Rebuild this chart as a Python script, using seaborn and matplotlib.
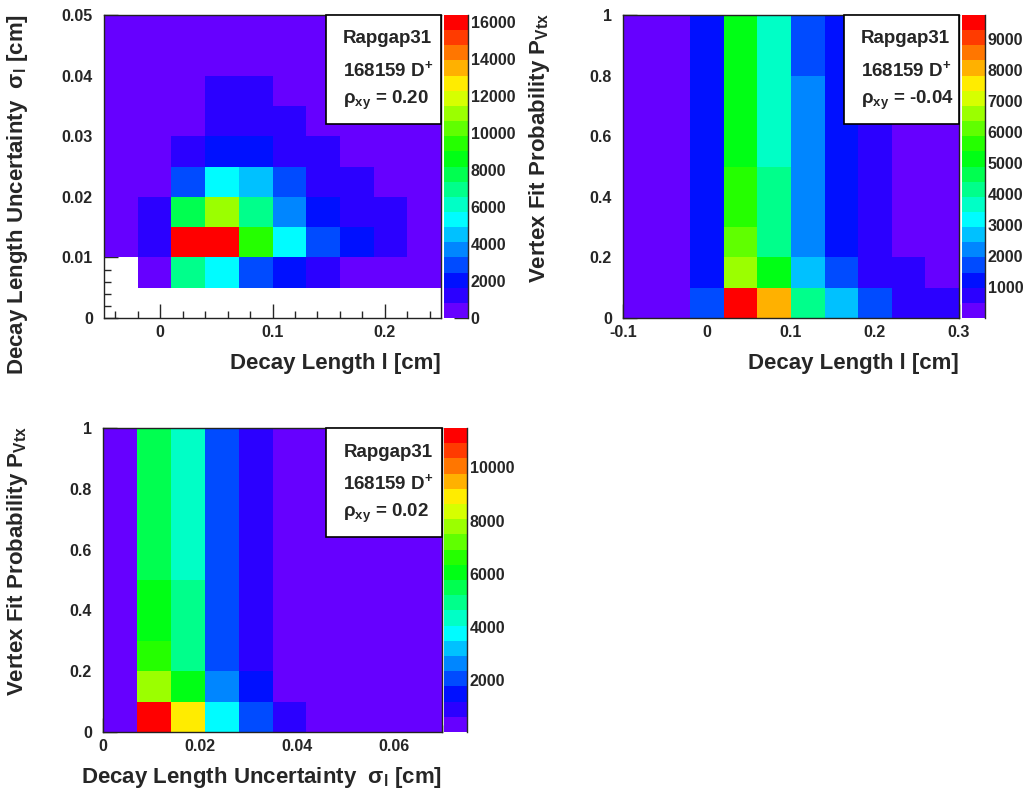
import numpy as np
import pandas as pd
import seaborn as sns
import matplotlib.pyplot as plt
from matplotlib.colors import ListedColormap
from matplotlib.patches import Rectangle
from matplotlib.ticker import MultipleLocator

# ROOT palette, 20 contour levels (violet -> red)
palette = ["#6600ff", "#2b00ff", "#0010ff", "#004bff", "#0086ff", "#00c1ff", "#00fcff",
           "#00ffc6", "#00ff8b", "#00ff50", "#00ff15", "#25ff00", "#60ff00", "#9bff00",
           "#d6ff00", "#ffec00", "#ffb100", "#ff7600", "#ff3b00", "#ff0000"]

# --- panel 1: decay length l vs uncertainty sigma_l (rows = lowest y bin first)
l_edges = [-0.05, -0.02, 0.01, 0.04, 0.07, 0.10, 0.13, 0.16, 0.19, 0.22, 0.25]
sig_edges = [0.0, 0.005, 0.010, 0.015, 0.020, 0.025, 0.030, 0.035, 0.040, 0.045, 0.050]
counts_l_sig = [
    [0, 0, 0, 0, 0, 0, 0, 0, 0, 0],
    [0, 300, 6970, 5330, 2870, 2050, 1230, 500, 420, 380],
    [350, 1230, 16300, 16150, 9430, 5330, 2870, 2050, 1230, 450],
    [400, 1230, 7790, 11070, 6970, 3690, 2050, 1230, 1230, 430],
    [380, 500, 2870, 5330, 4510, 2870, 1230, 1230, 480, 400],
    [360, 480, 1230, 2050, 2050, 1230, 1230, 520, 440, 380],
    [330, 450, 600, 1230, 1230, 1230, 700, 480, 400, 350],
    [300, 400, 550, 1230, 1230, 700, 600, 420, 360, 320],
    [280, 360, 480, 600, 620, 560, 480, 380, 330, 290],
    [250, 320, 420, 520, 540, 500, 420, 340, 300, 260],
]
z1_max = 16400
z1_ticks = [0, 2000, 4000, 6000, 8000, 10000, 12000, 14000, 16000]

# --- panel 2: decay length l vs vertex fit probability
l2_edges = [-0.10, -0.06, -0.02, 0.02, 0.06, 0.10, 0.14, 0.18, 0.22, 0.26, 0.30]
prob_edges = [0.0, 0.1, 0.2, 0.3, 0.4, 0.5, 0.6, 0.7, 0.8, 0.9, 1.0]
counts_l_prob = [
    [20, 180, 1710, 9700, 8060, 4150, 2690, 1710, 730, 730],
    [15, 160, 1220, 6600, 5130, 2690, 1710, 730, 730, 240],
    [15, 150, 1220, 6100, 4150, 2200, 1220, 730, 240, 240],
    [15, 150, 1220, 5620, 4150, 2200, 1220, 730, 240, 240],
    [15, 150, 1220, 5620, 4150, 2200, 1220, 730, 240, 240],
    [15, 150, 1220, 5130, 3660, 2200, 1220, 730, 240, 240],
    [15, 150, 1220, 5130, 3660, 2200, 1220, 730, 240, 240],
    [15, 150, 1220, 5130, 3660, 2200, 1220, 240, 240, 240],
    [15, 150, 1220, 5130, 3660, 1710, 1220, 240, 240, 240],
    [15, 150, 1220, 5130, 3660, 1710, 1220, 240, 240, 240],
]
z2_max = 9770
z2_ticks = [1000, 2000, 3000, 4000, 5000, 6000, 7000, 8000, 9000]

# --- panel 3: sigma_l vs vertex fit probability
sig3_edges = [0.0, 0.007, 0.014, 0.021, 0.028, 0.035, 0.042, 0.049, 0.056, 0.063, 0.070]
counts_sig_prob = [
    [100, 11350, 8900, 3760, 2050, 900, 200, 120, 90, 70],
    [100, 7760, 6050, 2620, 1480, 330, 180, 120, 90, 70],
    [100, 6620, 4900, 2050, 900, 330, 170, 110, 85, 70],
    [100, 6050, 4900, 2050, 900, 330, 170, 110, 85, 70],
    [100, 6050, 4900, 2050, 900, 330, 170, 110, 85, 70],
    [100, 5480, 4330, 2050, 900, 330, 160, 110, 80, 70],
    [100, 5480, 4330, 2050, 900, 330, 160, 110, 80, 70],
    [100, 5480, 4330, 2050, 900, 330, 160, 110, 80, 70],
    [100, 5480, 4330, 2050, 900, 330, 160, 110, 80, 70],
    [100, 5480, 4330, 2050, 900, 330, 160, 110, 80, 70],
]
z3_min, z3_max = 50, 11480
z3_ticks = [2000, 4000, 6000, 8000, 10000]

legend_lines = ["Rapgap31", r"168159 D$^{\mathbf{+}}$"]
rho_values = ["0.20", "-0.04", "0.02"]

sns.set_style("ticks")
plt.rcParams["font.family"] = ["Liberation Sans", "DejaVu Sans"]
plt.rcParams["font.weight"] = "bold"
plt.rcParams["axes.labelweight"] = "bold"
plt.rcParams["xtick.labelsize"] = 11.5
plt.rcParams["ytick.labelsize"] = 11.5
plt.rcParams["mathtext.fontset"] = "custom"
plt.rcParams["mathtext.rm"] = "Liberation Sans"
plt.rcParams["mathtext.bf"] = "Liberation Sans:bold"
plt.rcParams["mathtext.it"] = "Liberation Sans"
plt.rcParams["mathtext.default"] = "regular"

cmap = ListedColormap(palette)
W, H = 1027, 793
fig = plt.figure(figsize=(W / 100, H / 100), dpi=100)


def box(left, top, width, height):
    return [left / W, 1 - (top + height) / H, width / W, height / H]


def panel(ax, cax, xedges, yedges, counts, zmin, zmax, zticks):
    xc = [(a + b) / 2 for a, b in zip(xedges[:-1], xedges[1:])]
    yc = [(a + b) / 2 for a, b in zip(yedges[:-1], yedges[1:])]
    gx, gy = np.meshgrid(xc, yc)
    df = pd.DataFrame({"x": gx.ravel(), "y": gy.ravel(),
                       "n": np.asarray(counts, dtype=float).ravel()})
    sns.histplot(data=df, x="x", y="y", weights="n", bins=[xedges, yedges],
                 cmap=cmap, cbar=True, cbar_ax=cax, ax=ax)
    mesh = ax.collections[0]
    mesh.set_clim(zmin, zmax)
    ax.set_xlim(xedges[0], xedges[-1])
    ax.set_ylim(yedges[0], yedges[-1])
    for s in ax.spines.values():
        s.set_linewidth(1)
        s.set_color("#222222")
    cb = mesh.colorbar
    cb.outline.set_visible(False)
    cb.minorticks_off()
    cb.set_ticks(zticks, labels=[str(t) for t in zticks])
    cax.tick_params(axis="y", direction="in", length=10, width=1, pad=2,
                    labelsize=11.5, right=True, left=False)
    cax.spines["right"].set_visible(True)
    cax.spines["right"].set_linewidth(1)


def style_ticks(ax):
    ax.tick_params(which="both", direction="in", top=False, right=False,
                   labelsize=11.5, width=1)
    ax.tick_params(which="major", length=10)
    ax.tick_params(which="minor", length=5)
    ax.tick_params(axis="y", pad=8)
    ax.tick_params(axis="x", pad=5)


def labels(ax, xlabel, ylabel, ylab_off):
    ax.set_xlabel(xlabel, fontsize=16, loc="right")
    ax.set_ylabel(ylabel, fontsize=16, loc="top")
    ax.xaxis.label.set_va("center")
    ax.yaxis.label.set_va("center")
    bb = ax.get_position()
    ax.xaxis.set_label_coords(1.0, -45 / (bb.height * H))
    ax.yaxis.set_label_coords(-ylab_off / (bb.width * W), 1.005)


def legend(ax, rho):
    ax.add_patch(Rectangle((0.659, 0.64), 0.341, 0.36, transform=ax.transAxes,
                           facecolor="white", edgecolor="black", lw=1.2, zorder=5,
                           clip_on=False))
    ys = [0.921, 0.818, 0.719]
    texts = legend_lines + [r"$\rho_{\mathbf{xy}}$ = " + rho]
    for t, y in zip(texts, ys):
        ax.text(0.709, y, t, transform=ax.transAxes, fontsize=13.5,
                fontweight="bold", va="center", ha="left", zorder=6)


# panel 1
ax1 = fig.add_axes(box(104, 15, 337, 303))
cax1 = fig.add_axes(box(444, 15, 24, 303))
panel(ax1, cax1, l_edges, sig_edges, counts_l_sig, 0, z1_max, z1_ticks)
ax1.set_xticks([0, 0.1, 0.2], ["0", "0.1", "0.2"])
ax1.xaxis.set_minor_locator(MultipleLocator(0.02))
ax1.set_yticks([0, 0.01, 0.02, 0.03, 0.04, 0.05],
               ["0", "0.01", "0.02", "0.03", "0.04", "0.05"])
ax1.yaxis.set_minor_locator(MultipleLocator(0.002))
style_ticks(ax1)
labels(ax1, "Decay Length l [cm]",
       r"Decay Length Uncertainty  $\sigma_{\mathbf{l}}$ [cm]", 86)
legend(ax1, rho_values[0])

# panel 2
ax2 = fig.add_axes(box(623, 15, 336, 303))
cax2 = fig.add_axes(box(962, 15, 23, 303))
panel(ax2, cax2, l2_edges, prob_edges, counts_l_prob, 0, z2_max, z2_ticks)
ax2.set_xticks([-0.1, 0, 0.1, 0.2, 0.3], ["-0.1", "0", "0.1", "0.2", "0.3"])
ax2.xaxis.set_minor_locator(MultipleLocator(0.02))
ax2.set_yticks([0, 0.2, 0.4, 0.6, 0.8, 1.0], ["0", "0.2", "0.4", "0.6", "0.8", "1"])
ax2.yaxis.set_minor_locator(MultipleLocator(0.05))
style_ticks(ax2)
labels(ax2, "Decay Length l [cm]",
       r"Vertex Fit Probability P$_{\mathbf{Vtx}}$", 83)
legend(ax2, rho_values[1])

# panel 3
ax3 = fig.add_axes(box(103, 428, 339, 304))
cax3 = fig.add_axes(box(444, 428, 23, 304))
panel(ax3, cax3, sig3_edges, prob_edges, counts_sig_prob, z3_min, z3_max, z3_ticks)
ax3.set_xticks([0, 0.02, 0.04, 0.06], ["0", "0.02", "0.04", "0.06"])
ax3.xaxis.set_minor_locator(MultipleLocator(0.005))
ax3.set_yticks([0, 0.2, 0.4, 0.6, 0.8, 1.0], ["0", "0.2", "0.4", "0.6", "0.8", "1"])
ax3.yaxis.set_minor_locator(MultipleLocator(0.05))
style_ticks(ax3)
labels(ax3, r"Decay Length Uncertainty  $\sigma_{\mathbf{l}}$ [cm]",
       r"Vertex Fit Probability P$_{\mathbf{Vtx}}$", 85)
legend(ax3, rho_values[2])

fig.savefig("out.png", dpi=100)
